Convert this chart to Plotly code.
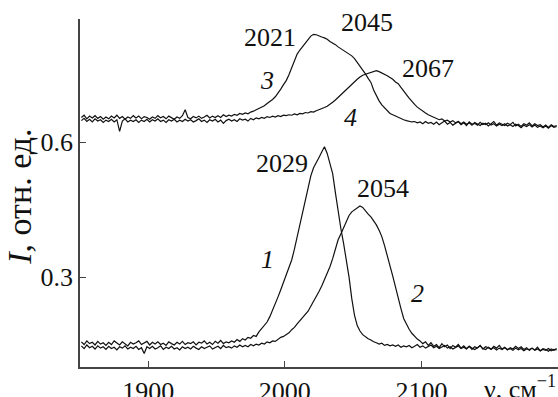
import plotly.graph_objects as go

# wavenumber sampling grid, cm^-1 (1851, 1853, ..., 2199)
nu = list(range(1851, 2200, 2))

# spectrum 1 (peak 2029)
I1 = [
    0.156, 0.150, 0.158, 0.152, 0.155,  # 1850s
    0.149, 0.157, 0.151, 0.154, 0.148,
    0.155, 0.150, 0.158, 0.153, 0.149,
    0.156, 0.152, 0.147, 0.155, 0.151,
    0.154, 0.158, 0.150, 0.153, 0.157,
    0.149, 0.155, 0.151, 0.156, 0.150,  # 1900s
    0.153, 0.148, 0.156, 0.152, 0.149,
    0.155, 0.151, 0.157, 0.150, 0.154,
    0.152, 0.156, 0.149, 0.155, 0.153,
    0.158, 0.151, 0.155, 0.150, 0.157,
    0.153, 0.159, 0.152, 0.156, 0.154,  # 1950s
    0.158, 0.155, 0.161, 0.157, 0.163,
    0.160, 0.166, 0.164, 0.170, 0.168,
    0.178, 0.186, 0.192, 0.200, 0.212,
    0.226, 0.240, 0.256, 0.272, 0.288,
    0.302, 0.318, 0.338, 0.362, 0.390,  # 2000s
    0.418, 0.446, 0.475, 0.502, 0.525,
    0.543, 0.556, 0.566, 0.578, 0.590,
    0.575, 0.553, 0.530, 0.488, 0.443,
    0.408, 0.375, 0.342, 0.300, 0.252,
    0.215, 0.192, 0.180, 0.172, 0.167,  # 2050s
    0.163, 0.160, 0.156, 0.154, 0.151,
    0.153, 0.148, 0.150, 0.147, 0.149,
    0.146, 0.149, 0.144, 0.147, 0.145,
    0.148, 0.143, 0.146, 0.150, 0.144,
    0.147, 0.142, 0.145, 0.149, 0.143,  # 2100s
    0.146, 0.141, 0.144, 0.148, 0.142,
    0.145, 0.140, 0.143, 0.147, 0.141,
    0.144, 0.140, 0.146, 0.142, 0.139,
    0.143, 0.147, 0.141, 0.139, 0.144,
    0.140, 0.143, 0.138, 0.142, 0.139,  # 2150s
    0.143, 0.139, 0.141, 0.137, 0.142,
    0.138, 0.141, 0.136, 0.140, 0.139,
    0.142, 0.137, 0.140, 0.136, 0.139,
    0.137, 0.141, 0.136, 0.139, 0.138,
]

# spectrum 2 (peak 2054)
I2 = [
    0.147, 0.141, 0.149, 0.143, 0.146,  # 1850s
    0.140, 0.147, 0.142, 0.145, 0.139,
    0.146, 0.141, 0.144, 0.138, 0.145,
    0.142, 0.147, 0.140, 0.144, 0.141,
    0.146, 0.139, 0.143, 0.130, 0.145,
    0.141, 0.146, 0.140, 0.143, 0.147,  # 1900s
    0.139, 0.144, 0.141, 0.146, 0.140,
    0.143, 0.138, 0.145, 0.141, 0.144,
    0.140, 0.146, 0.142, 0.139, 0.145,
    0.141, 0.144, 0.147, 0.140, 0.143,
    0.146, 0.141, 0.148, 0.143, 0.145,  # 1950s
    0.142, 0.147, 0.144, 0.149, 0.145,
    0.148, 0.145, 0.150, 0.147, 0.151,
    0.149, 0.153, 0.151, 0.156, 0.154,
    0.158, 0.157, 0.162, 0.166, 0.168,
    0.172, 0.176, 0.183, 0.188, 0.196,  # 2000s
    0.203, 0.210, 0.217, 0.224, 0.235,
    0.245, 0.258, 0.268, 0.280, 0.293,
    0.306, 0.323, 0.341, 0.363, 0.383,
    0.396, 0.410, 0.425, 0.437, 0.445,
    0.450, 0.455, 0.458, 0.455, 0.447,  # 2050s
    0.440, 0.434, 0.425, 0.416, 0.404,
    0.390, 0.370, 0.348, 0.330, 0.302,
    0.278, 0.252, 0.230, 0.208, 0.194,
    0.184, 0.175, 0.168, 0.162, 0.158,
    0.152, 0.156, 0.148, 0.154, 0.146,  # 2100s
    0.150, 0.143, 0.152, 0.145, 0.149,
    0.141, 0.148, 0.144, 0.150, 0.142,
    0.147, 0.141, 0.146, 0.139, 0.145,
    0.142, 0.148, 0.140, 0.145, 0.143,
    0.139, 0.146, 0.142, 0.148, 0.140,  # 2150s
    0.144, 0.138, 0.143, 0.140, 0.146,
    0.141, 0.145, 0.139, 0.143, 0.137,
    0.142, 0.138, 0.144, 0.136, 0.141,
    0.139, 0.135, 0.140, 0.137, 0.141,
]

# spectrum 3 (peak 2021, shoulder 2045)
I3 = [
    0.655, 0.660, 0.652, 0.658, 0.654,  # 1850s
    0.659, 0.653, 0.657, 0.651, 0.656,
    0.652, 0.658, 0.654, 0.660, 0.653,
    0.657, 0.651, 0.656, 0.653, 0.659,
    0.654, 0.658, 0.652, 0.657, 0.655,
    0.651, 0.656, 0.653, 0.659, 0.654,  # 1900s
    0.657, 0.652, 0.658, 0.655, 0.651,
    0.656, 0.653, 0.659, 0.672, 0.655,
    0.652, 0.657, 0.654, 0.658, 0.653,
    0.656, 0.660, 0.654, 0.658, 0.655,
    0.659, 0.655, 0.661, 0.657, 0.660,  # 1950s
    0.658, 0.662, 0.660, 0.664, 0.662,
    0.665, 0.663, 0.667, 0.669, 0.672,
    0.674, 0.677, 0.681, 0.686, 0.690,
    0.695, 0.701, 0.709, 0.718, 0.728,
    0.737, 0.750, 0.766, 0.782, 0.796,  # 2000s
    0.805, 0.812, 0.819, 0.828, 0.836,
    0.840, 0.839, 0.836, 0.834, 0.832,
    0.829, 0.824, 0.821, 0.817, 0.812,
    0.808, 0.805, 0.800, 0.796, 0.792,
    0.786, 0.778, 0.769, 0.760, 0.752,  # 2050s
    0.742, 0.733, 0.716, 0.703, 0.692,
    0.683, 0.676, 0.670, 0.664, 0.661,
    0.658, 0.655, 0.653, 0.650, 0.648,
    0.647, 0.645, 0.646, 0.643, 0.645,
    0.641, 0.646, 0.642, 0.644, 0.640,  # 2100s
    0.645, 0.639, 0.643, 0.647, 0.640,
    0.644, 0.638, 0.642, 0.646, 0.639,
    0.643, 0.637, 0.645, 0.640, 0.642,
    0.638, 0.644, 0.639, 0.642, 0.636,
    0.641, 0.646, 0.638, 0.643, 0.640,  # 2150s
    0.637, 0.642, 0.639, 0.644, 0.636,
    0.640, 0.635, 0.641, 0.638, 0.643,
    0.636, 0.641, 0.637, 0.639, 0.634,
    0.638, 0.633, 0.639, 0.635, 0.637,
]

# spectrum 4 (peak 2067)
I4 = [
    0.648, 0.653, 0.646, 0.651, 0.645,  # 1850s
    0.652, 0.647, 0.650, 0.644, 0.649,
    0.646, 0.651, 0.645, 0.650, 0.624,
    0.647, 0.652, 0.645, 0.649, 0.646,
    0.650, 0.644, 0.649, 0.646, 0.651,
    0.645, 0.650, 0.647, 0.652, 0.646,  # 1900s
    0.649, 0.644, 0.650, 0.647, 0.651,
    0.645, 0.649, 0.646, 0.651, 0.647,
    0.650, 0.645, 0.648, 0.652, 0.646,
    0.649, 0.644, 0.650, 0.647, 0.651,
    0.645, 0.649, 0.642, 0.648, 0.651,  # 1950s
    0.647, 0.650, 0.646, 0.652, 0.649,
    0.651, 0.647, 0.653, 0.650, 0.654,
    0.652, 0.655, 0.653, 0.657, 0.655,
    0.658, 0.656, 0.659, 0.657, 0.660,
    0.659, 0.661, 0.660, 0.663, 0.661,  # 2000s
    0.664, 0.663, 0.666, 0.665, 0.668,
    0.667, 0.670, 0.672, 0.675, 0.677,
    0.680, 0.684, 0.689, 0.694, 0.700,
    0.706, 0.712, 0.718, 0.724, 0.730,
    0.735, 0.740, 0.745, 0.749, 0.751,  # 2050s
    0.753, 0.755, 0.757, 0.759, 0.757,
    0.754, 0.752, 0.748, 0.744, 0.740,
    0.734, 0.730, 0.722, 0.713, 0.706,
    0.698, 0.690, 0.684, 0.678, 0.673,
    0.669, 0.665, 0.661, 0.658, 0.655,  # 2100s
    0.653, 0.650, 0.652, 0.647, 0.649,
    0.645, 0.648, 0.643, 0.646, 0.641,
    0.645, 0.640, 0.643, 0.638, 0.644,
    0.640, 0.637, 0.642, 0.639, 0.643,
    0.638, 0.641, 0.636, 0.640, 0.637,  # 2150s
    0.641, 0.636, 0.639, 0.635, 0.640,
    0.637, 0.632, 0.638, 0.635, 0.639,
    0.634, 0.638, 0.633, 0.636, 0.632,
    0.636, 0.631, 0.637, 0.633, 0.635,
]

x_ticks = [1900, 2000, 2100]
y_ticks = [0.3, 0.6]
y_tick_labels = ["0.3", "0.6"]

# peak-position labels and curve numbers
peak_labels = ["2021", "2045", "2067", "2029", "2054"]
peak_x = [1989, 2060, 2105, 1998, 2072]
peak_y = [0.833, 0.867, 0.764, 0.553, 0.498]
curve_labels = ["3", "4", "1", "2"]
curve_x = [1987, 2048, 1987, 2097]
curve_y = [0.738, 0.656, 0.338, 0.264]

FONT = "'Liberation Serif', 'Times New Roman', serif"
ink = "#111111"
FS = 26

fig = go.Figure()
for ys in (I1, I2, I3, I4):
    fig.add_trace(go.Scatter(x=nu, y=ys, mode="lines",
                             line=dict(color=ink, width=1.2),
                             showlegend=False, hoverinfo="skip"))

ann = []
for t, x, y in zip(peak_labels, peak_x, peak_y):
    ann.append(dict(x=x, y=y, xref="x", yref="y", text=t, showarrow=False,
                    font=dict(family=FONT, size=FS, color=ink)))
for t, x, y in zip(curve_labels, curve_x, curve_y):
    ann.append(dict(x=x, y=y, xref="x", yref="y", text="<i>" + t + "</i>",
                    showarrow=False, font=dict(family=FONT, size=FS, color=ink)))
ann.append(dict(x=0.999, y=-0.06, xref="paper", yref="paper",
                text="ν, см<sup>−1</sup>", showarrow=False,
                xanchor="right", yanchor="middle",
                font=dict(family=FONT, size=26, color=ink)))
ann.append(dict(x=-0.127, y=0.49, xref="paper", yref="paper",
                text="<i>I</i>, отн. ед.", showarrow=False, textangle=-90,
                xanchor="center", yanchor="middle",
                font=dict(family=FONT, size=34, color=ink)))

fig.update_layout(
    width=558, height=397,
    margin=dict(l=80, r=0, t=19, b=30),
    paper_bgcolor="white", plot_bgcolor="white",
    annotations=ann,
    xaxis=dict(range=[1850, 2200], tickvals=x_ticks, ticks="inside", ticklen=6,
               tickcolor="#444", tickwidth=1.2,
               showline=True, linecolor="#444", linewidth=1.6,
               showgrid=False, zeroline=False, automargin=False,
               tickfont=dict(family=FONT, size=26, color=ink)),
    yaxis=dict(range=[0.1, 0.874], tickvals=y_ticks, ticktext=y_tick_labels,
               ticks="inside", ticklen=6, tickcolor="#444", tickwidth=1.2,
               showline=True, linecolor="#444", linewidth=1.6,
               showgrid=False, zeroline=False, automargin=False,
               tickfont=dict(family=FONT, size=26, color=ink)),
)

# remove the browser's default 8px page margin so the figure sits at (0, 0)
fig.write_html("out.html", config={"displayModeBar": False},
               post_script="document.body.style.margin='0';"
                           "document.body.style.padding='0';")
